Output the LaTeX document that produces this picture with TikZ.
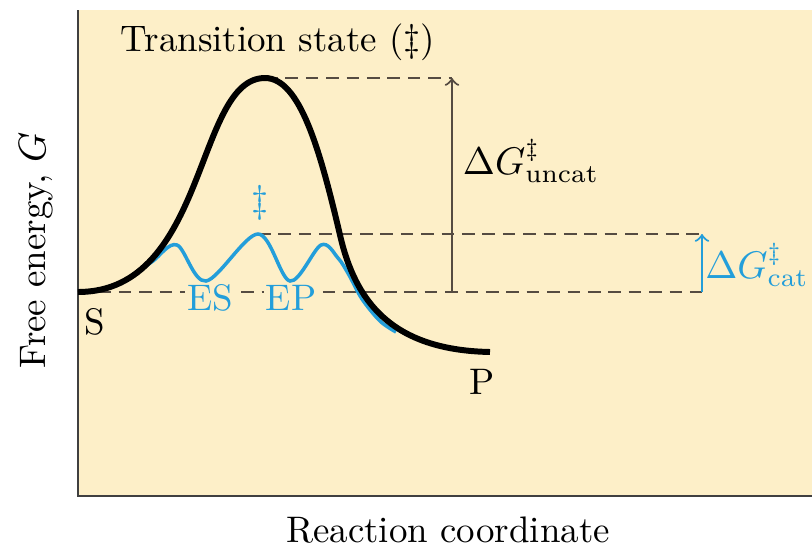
\documentclass[tikz,border=0pt]{standalone}
\usepackage{amsmath}
\usepackage{amssymb}
\usepackage{tikz}
\usepackage{xcolor}
\usetikzlibrary{arrows}
\definecolor{panelbg}{RGB}{253,239,200}
\definecolor{catblue}{RGB}{35,158,218}
\definecolor{guide}{RGB}{85,75,65}
\begin{document}
\begin{tikzpicture}[x=0.01cm,y=-0.01cm,
  lbl/.style={font=\fontsize{10.5}{12}\selectfont},
  guideline/.style={guide,line width=0.6pt,dash pattern=on 3.6pt off 2.2pt},
  barrier/.style={->,line width=0.6pt}]
\useasboundingbox (0,0) rectangle (812,551);
\fill[panelbg] (78,10) rectangle (812,496);
\draw[line width=0.8pt,black!75] (78,10) -- (78,496) -- (812,496);
\coordinate (S) at (78,292);
\coordinate (TS) at (265,78);
\coordinate (P) at (490,352);
\coordinate (EST) at (258,234);
\coordinate (Utop) at (452,78);
\coordinate (Ubot) at (452,292);
\coordinate (Ctop) at (702,234);
\coordinate (Cbot) at (702,292);
% guide lines
\draw[guideline] (TS) -- (Utop);
\draw[guideline] (EST) -- (Ctop);
\draw[guideline] (S) -- (Cbot);
\draw[barrier,guide] (Ubot) -- (Utop);
\draw[barrier,catblue] (Cbot) -- (Ctop);
% catalysed path
\draw[catblue,line width=1pt] plot[smooth,tension=0.55] coordinates {(134,275) (153,261) (177,245) (206,281) (EST) (290,281) (321,245) (338,258) (349,275) (362,299) (380,321) (396,332)};
% uncatalysed path
\draw[line width=1.7pt] (S) .. controls (208,292) and (195,78) .. (TS)
  .. controls (300,78) and (320,150) .. (340,235)
  .. controls (355,300) and (390,350) .. (P);
\node[lbl] (title) at (278,42) {Transition state ($\ddagger$)};
\node[lbl,catblue] (dag) at (260,203) {$\ddagger$};
\node[lbl,catblue,fill=panelbg,inner sep=0.5pt] (es) at (210,298) {ES};
\node[lbl,catblue,fill=panelbg,inner sep=0.5pt] (ep) at (291,298) {EP};
\node[lbl] (slbl) at (95,322) {S};
\node[lbl] (plbl) at (482,382) {P};
\node[lbl] (uncat) at (531,161) {$\Delta G^{\ddagger}_{\text{uncat}}$};
\node[lbl,catblue] (cat) at (757,265) {$\Delta G^{\ddagger}_{\text{cat}}$};
\node[lbl,rotate=90] (ylbl) at (36,250) {Free energy, $G$};
\node[lbl] (xlbl) at (448,530) {Reaction coordinate};
\end{tikzpicture}
\end{document}
